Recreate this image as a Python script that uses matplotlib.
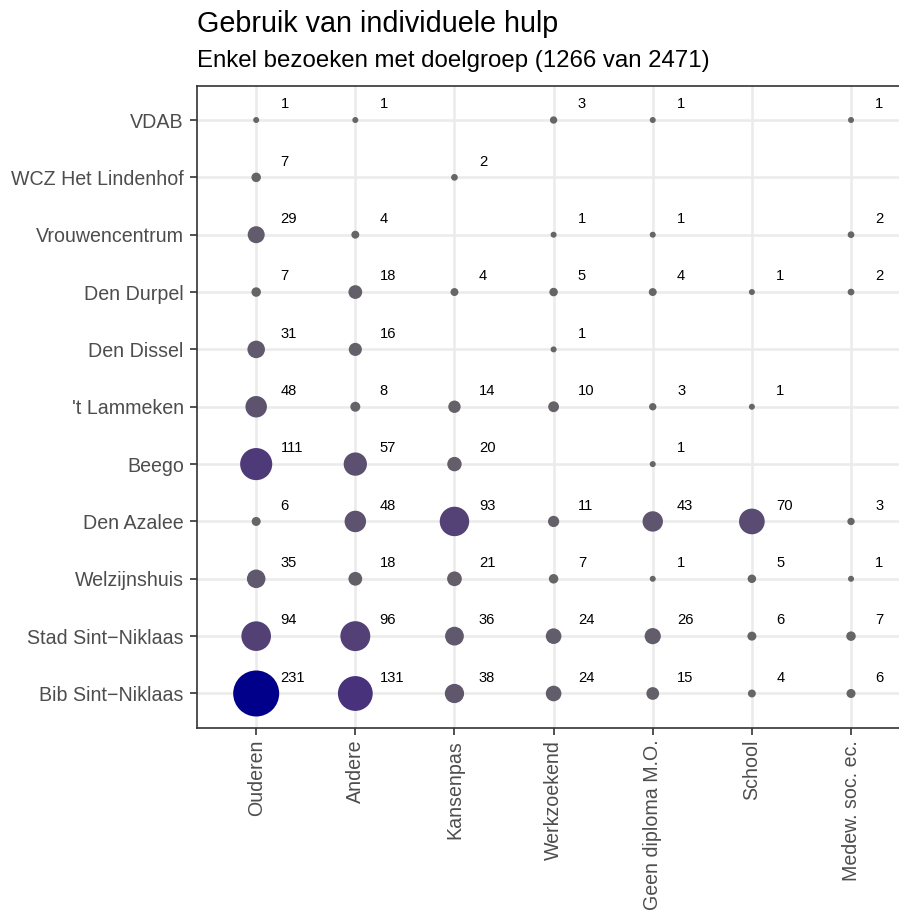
import numpy as np
import matplotlib
matplotlib.use("Agg")
import matplotlib.pyplot as plt

# ---------------- data ----------------
groups = ["Ouderen", "Andere", "Kansenpas", "Werkzoekend",
          "Geen diploma M.O.", "School", "Medew. soc. ec."]
# organisations from bottom to top
orgs = ["Bib Sint\u2212Niklaas", "Stad Sint\u2212Niklaas", "Welzijnshuis",
        "Den Azalee", "Beego", "'t Lammeken", "Den Dissel", "Den Durpel",
        "Vrouwencentrum", "WCZ Het Lindenhof", "VDAB"]
N = None
bib          = [231, 131, 38, 24, 15, 4, 6]
stad         = [94, 96, 36, 24, 26, 6, 7]
welzijnshuis = [35, 18, 21, 7, 1, 5, 1]
den_azalee   = [6, 48, 93, 11, 43, 70, 3]
beego        = [111, 57, 20, N, 1, N, N]
lammeken     = [48, 8, 14, 10, 3, 1, N]
den_dissel   = [31, 16, N, 1, N, N, N]
den_durpel   = [7, 18, 4, 5, 4, 1, 2]
vrouwen      = [29, 4, N, 1, 1, N, 2]
wcz          = [7, N, 2, N, N, N, N]
vdab         = [1, 1, N, 3, 1, N, 1]
rows = [bib, stad, welzijnshuis, den_azalee, beego, lammeken,
        den_dissel, den_durpel, vrouwen, wcz, vdab]

title = "Gebruik van individuele hulp"
subtitle = "Enkel bezoeken met doelgroep (1266 van 2471)"

# ---------------- colour helpers (Lab interpolation like ggplot) ----------------
def hex2rgb(h):
    h = h.lstrip("#")
    return np.array([int(h[i:i + 2], 16) / 255 for i in (0, 2, 4)])

def srgb2lin(c):
    return np.where(c <= 0.04045, c / 12.92, ((c + 0.055) / 1.055) ** 2.4)

def lin2srgb(c):
    c = np.clip(c, 0, 1)
    return np.where(c <= 0.0031308, 12.92 * c, 1.055 * c ** (1 / 2.4) - 0.055)

M = np.array([[0.4124, 0.3576, 0.1805],
              [0.2126, 0.7152, 0.0722],
              [0.0193, 0.1192, 0.9505]])
WP = np.array([0.95047, 1.0, 1.08883])

def rgb2lab(rgb):
    xyz = M @ srgb2lin(rgb) / WP
    f = np.where(xyz > 0.008856, np.cbrt(xyz), 7.787 * xyz + 16 / 116)
    return np.array([116 * f[1] - 16, 500 * (f[0] - f[1]), 200 * (f[1] - f[2])])

def lab2rgb(lab):
    fy = (lab[0] + 16) / 116
    fx = fy + lab[1] / 500
    fz = fy - lab[2] / 200
    f = np.array([fx, fy, fz])
    xyz = np.where(f ** 3 > 0.008856, f ** 3, (f - 16 / 116) / 7.787) * WP
    return lin2srgb(np.linalg.solve(M, xyz))

LOW = rgb2lab(hex2rgb("#666666"))
HIGH = rgb2lab(hex2rgb("#00008B"))

# ---------------- collect points ----------------
xs, ys, vs = [], [], []
for yi, r in enumerate(rows):
    for xi, v in enumerate(r):
        if v is not None:
            xs.append(xi); ys.append(yi); vs.append(v)
xs = np.array(xs); ys = np.array(ys); vs = np.array(vs, dtype=float)
vmin, vmax = vs.min(), vs.max()
t = (vs - vmin) / (vmax - vmin)
cols = [lab2rgb(LOW + ti * (HIGH - LOW)) for ti in t]
# marker area: diameter^2 (px) linear in value
d2_px = 36 + 2080 * t
sizes = d2_px * (0.72 ** 2)

# ---------------- figure ----------------
W, H = 899, 911
fig = plt.figure(figsize=(W / 100, H / 100), dpi=100)
plt.rcParams["font.family"] = ["Liberation Sans", "DejaVu Sans"]

left_px, right_px, top_px, bot_px = 196.7, 910.5, 85.6, 727.9
ax = fig.add_axes([left_px / W, 1 - bot_px / H,
                   (right_px - left_px) / W, (bot_px - top_px) / H])
ax.set_xlim(-0.6, len(groups) - 1 + 0.6)
ax.set_ylim(-0.6, len(orgs) - 1 + 0.6)

ax.set_xticks(range(len(groups)))
ax.set_xticklabels(groups, rotation=90, ha="center", va="top")
ax.set_yticks(range(len(orgs)))
ax.set_yticklabels(orgs)
ax.grid(True, color="#EBEBEB", linewidth=1.8, zorder=0)
ax.set_axisbelow(True)
for s in ax.spines.values():
    s.set_color("#333333")
    s.set_linewidth(1.2)
ax.tick_params(axis="both", colors="#333333", length=5, width=1.2,
               labelcolor="#4D4D4D", labelsize=14.1)
ax.tick_params(axis="y", pad=4.3)
ax.tick_params(axis="x", pad=3.6)

ax.scatter(xs, ys, s=sizes, c=cols, linewidths=0, zorder=3)
for x, y, v in zip(xs, ys, vs):
    ax.text(x + 0.245, y + 0.204, f"{int(v)}", fontsize=10.6, color="black",
            ha="left", va="baseline", zorder=4)

fig.text(left_px / W, 1 - 31.7 / H, title, fontsize=20.7, color="black",
         ha="left", va="baseline")
fig.text(left_px / W, 1 - 66.5 / H, subtitle, fontsize=17.3, color="black",
         ha="left", va="baseline")

fig.savefig("out.png", dpi=100, facecolor="white")
